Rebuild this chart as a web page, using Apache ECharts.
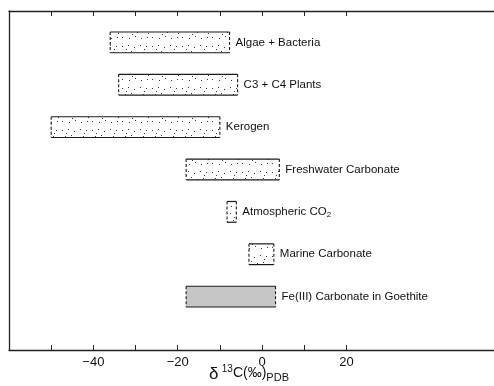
<!DOCTYPE html>
<html>
<head>
<meta charset="utf-8">
<script src="https://cdn.jsdelivr.net/npm/echarts@6/dist/echarts.min.js"></script>
<style>
  html, body { margin: 0; padding: 0; background: #fff; }
  #chart { width: 494px; height: 386px; }
</style>
</head>
<body>
<div id="chart"></div>
<script>
// Carbon isotope ranges (δ13C, ‰ vs PDB) for common carbon reservoirs
const categories = [
  'Algae + Bacteria',
  'C3 + C4 Plants',
  'Kerogen',
  'Freshwater Carbonate',
  'Atmospheric CO₂',
  'Marine Carbonate',
  'Fe(III) Carbonate in Goethite'
];
const lowValues  = [-36, -34, -50, -18, -8.3, -3.1, -18];
const highValues = [-7.7, -5.8, -10, 4.1, -6.1, 2.8, 3.2];
const tickValues  = [-50, -40, -30, -20, -10, 0, 10, 20];
const labelValues = [-40, -20, 0, 20];

const FONT = "'Liberation Sans', Arial, Helvetica, sans-serif";

// Stippled fill for the range boxes
function makeStipple() {
  const c = document.createElement('canvas');
  c.width = 30; c.height = 21;
  const g = c.getContext('2d');
  g.fillStyle = '#fff';
  g.fillRect(0, 0, c.width, c.height);
  g.fillStyle = '#3a3a3a';
  const dots = [
    [2,4],[8,3],[14,5],[20,3],[26,4],
    [5,10],[11,9],[17,11],[23,10],[28,12],
    [2,16],[9,17],[15,15],[21,17],[27,16],
    [12,13],[6,7],[24,7]
  ];
  dots.forEach(([x, y]) => g.fillRect(x, y, 1, 1));
  return c;
}
const stipple = makeStipple();

const rows = categories.map((name, i) => [categories.length - i, lowValues[i], highValues[i], i]);

const chart = echarts.init(document.getElementById('chart'), null, { renderer: 'canvas' });

const axisLineStyle = { color: '#222', width: 1.3 };

chart.setOption({
  animation: false,
  backgroundColor: '#fff',
  grid: { left: 9, top: 11, right: 0, height: 339 },
  xAxis: [
    {
      type: 'value', min: -60, max: 55, position: 'bottom',
      axisLine: { show: true, onZero: false, lineStyle: axisLineStyle },
      axisTick: { show: true, inside: true, length: 5, customValues: tickValues, lineStyle: { color: '#222' } },
      axisLabel: {
        show: true, customValues: labelValues, margin: 6,
        color: '#111', fontSize: 13, fontFamily: FONT,
        formatter: v => String(v).replace('-', '−')
      },
      splitLine: { show: false }
    },
    {
      type: 'value', min: -60, max: 55, position: 'top',
      axisLine: { show: true, onZero: false, lineStyle: axisLineStyle },
      axisTick: { show: true, inside: true, length: 5, customValues: tickValues, lineStyle: { color: '#222' } },
      axisLabel: { show: false },
      splitLine: { show: false }
    }
  ],
  yAxis: {
    type: 'value', min: -0.26, max: 7.74, position: 'left',
    axisLine: { show: true, onZero: false, lineStyle: axisLineStyle },
    axisTick: { show: false },
    axisLabel: { show: false },
    splitLine: { show: false }
  },
  graphic: [{
    type: 'text',
    left: 209, top: 364,
    style: {
      text: '{d|δ} {sup|13}{c|C(‰)}{sub|PDB}',
      fill: '#111',
      rich: {
        d:   { fontSize: 17, fontFamily: FONT, fill: '#111', verticalAlign: 'bottom' },
        sup: { fontSize: 10, fontFamily: FONT, fill: '#111', padding: [0, 0, 9, 0] },
        c:   { fontSize: 14, fontFamily: FONT, fill: '#111' },
        sub: { fontSize: 11, fontFamily: FONT, fill: '#111', padding: [8, 0, 0, 0] }
      }
    }
  }],
  series: [{
    type: 'custom',
    xAxisIndex: 0,
    data: rows,
    encode: { x: [1, 2], y: 0 },
    renderItem: function (params, api) {
      const yv = api.value(0);
      const p0 = api.coord([api.value(1), yv]);
      const p1 = api.coord([api.value(2), yv]);
      const h = api.size([0, 0.49])[1];
      const idx = api.value(3);
      const solid = idx === categories.length - 1;
      const x0 = p0[0], x1 = p1[0], y0 = p0[1] - h / 2, y1 = p0[1] + h / 2;
      const stroke = '#1a1a1a';
      const name = categories[idx].replace('₂', '{s|2}');
      return {
        type: 'group',
        children: [
          {
            type: 'rect',
            shape: { x: x0, y: y0, width: x1 - x0, height: h },
            style: { fill: solid ? '#c6c6c6' : { image: stipple, repeat: 'repeat' } }
          },
          { type: 'line', shape: { x1: x0, y1: y0, x2: x1, y2: y0 }, style: { stroke, lineWidth: 1.2 } },
          { type: 'line', shape: { x1: x0, y1: y1, x2: x1, y2: y1 }, style: { stroke, lineWidth: 1.2 } },
          { type: 'line', shape: { x1: x0, y1: y0, x2: x0, y2: y1 }, style: { stroke, lineWidth: 1.1, lineDash: [3, 2] } },
          { type: 'line', shape: { x1: x1, y1: y0, x2: x1, y2: y1 }, style: { stroke, lineWidth: 1.1, lineDash: [3, 2] } },
          {
            type: 'text',
            x: x1 + 6, y: p0[1],
            style: {
              text: name,
              fill: '#111',
              font: '11.5px ' + FONT,
              verticalAlign: 'middle',
              align: 'left',
              rich: {
                s: { fontSize: 8, fontFamily: FONT, fill: '#111', padding: [6, 0, 0, 0] }
              }
            }
          }
        ]
      };
    }
  }]
});
</script>
</body>
</html>
